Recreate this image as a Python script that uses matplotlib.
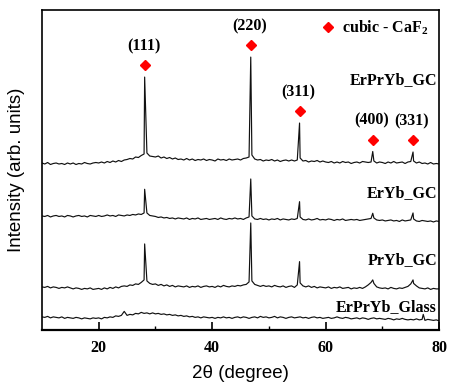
import numpy as np
import matplotlib
matplotlib.use("Agg")
import matplotlib.pyplot as plt

# ── data (intensities in arb. units, each pattern relative to its own baseline) ──
TWO_THETA = np.arange(10.0, 80.01, 0.5)          # 141 points

ERPRYB_GC = [
    0, -1, 0.5, -1.5, -0.5, 0, -1, -0.5, -1.5, 0,
    -1, 0, -1.5, -0.5, -1, 0.5, -0.5, -1, 0, 0.5,
    0, 1, 0, 1.5, 0.5, 2, 1, 2.5, 1.5, 3,
    3.5, 4.5, 4, 6, 5.5, 7.5, 9, 10, 7, 6.5,
    6, 7, 5, 6, 4.5, 5.5, 4, 5, 3.5, 4,
    3, 4.5, 3, 4, 2.5, 3.5, 3, 4, 2.5, 3.5,
    3, 2, 4, 3, 3.5, 2.5, 4, 3, 3.5, 4,
    3, 4.5, 5, 6, 8, 4, 3, 3.5, 2, 3,
    2.5, 3.5, 2, 3, 1.5, 2.5, 3, 2, 3, 2,
    3, 5, 2, 2.5, 1, 2, 1.5, 2.5, 1, 2,
    1, 0.5, 1.5, 0, 1, 0, 1.5, 0.5, 1, -0.5,
    0.5, 1, 0, 1.5, 1, 0.5, 1, 2, 0, 1,
    0.5, -0.5, 1, 0, 1.5, 0, 0.5, 1, -0.5, 1,
    1.5, 2, 0, 1, -0.5, 0, -1, 0.5, -1, -0.5,
    -1,
]
ERYB_GC = [
    0, -0.5, 0.5, -1, 0, 0.5, -0.5, 0, -1, 0.5,
    0, -1, 0, 0.5, -0.5, 0, -1, 0.5, 0, -0.5,
    0.5, -0.5, 0, 1, 0, 0.5, -0.5, 1, 0.5, 0,
    1, 0.5, 1.5, 1, 2, 1.5, 3, 3, 0.5, 0,
    -0.5, -1.5, -1, -2, -1.5, -2.5, -2, -3, -2, -2.5,
    -3, -2, -3.5, -2.5, -3, -2, -3.5, -3, -2.5, -3.5,
    -3, -2.5, -3.5, -2, -3, -3.5, -2.5, -3, -2, -3,
    -2.5, -3.5, -2, -1, 0, -3, -3.5, -2.5, -3.5, -3,
    -4, -3, -3.5, -2.5, -4, -3, -3.5, -4, -3, -3.5,
    -2.5, -1, -3.5, -4, -3, -4, -3.5, -2.5, -4, -3.5,
    -4, -3, -3.5, -4.5, -3.5, -4, -3, -4.5, -4, -3.5,
    -4, -3.5, -4.5, -4, -3.5, -3, -2.5, -2, -4, -4.5,
    -4, -5, -4.5, -4, -5, -4.5, -5.5, -4, -5, -4.5,
    -4, -3, -5, -5.5, -4.5, -5, -5.5, -5, -6, -5,
    -5.5,
]
PRYB_GC = [
    0, -0.5, 0.5, -1, 0, -0.5, -1.5, -0.5, -1, 0,
    -1, -2, -1, -1.5, -2.5, -1.5, -2, -1, -2.5, -2,
    -1.5, -2.5, -1, -2, -0.5, -1.5, 0, -1, 0.5, 1,
    0.5, 2, 1.5, 3, 2.5, 4.5, 7, 6, 3.5, 2.5,
    3, 1.5, 2.5, 1, 2, 0.5, 1.5, 0, 1, 0.5,
    0, 1, -0.5, 0.5, 0, 1, -0.5, 0.5, 1, 0,
    0.5, -0.5, 1, 0, 1.5, 0.5, 0, 1, 0.5, 1.5,
    1, 2, 2.5, 5, 6, 2.5, 1.5, 0.5, 1.5, 0.5,
    1, 0, 1.5, 0.5, 0, 1, -0.5, 0.5, 1, -0.5,
    2, 4, 1, 0, 1, -0.5, 0.5, -1, 0, -0.5,
    -1, 0, -1.5, -0.5, -1, 0, -1.5, -1, -0.5, -2,
    -1, -1.5, -0.5, -1.5, 0, 2, 4.5, 3.5, 0, -1,
    -1.5, -1, -2, -0.5, -1.5, -2, -1, -1.5, -0.5, 0.5,
    3, 3.5, 1, -1, -1.5, -2, -1, -2.5, -1.5, -2,
    -2,
]
ERPRYB_GLASS = [
    0, -0.5, 0.5, -1, 0, -0.5, -1, 0, -1.5, -0.5,
    -1, -1.5, -0.5, -1, -2, -1, -1.5, -2, -1, -1.5,
    -1, -2, -0.5, -1, 0, -0.5, 1, 0.5, 1.5, 5.5,
    1.5, 2.5, 2, 3.5, 3, 4.5, 3.5, 4, 3, 4,
    3, 3.5, 2.5, 3, 2, 2.5, 1.5, 2, 1, 1.5,
    0.5, 1, 0, 0.5, -0.5, 0, -1, 0, -0.5, -1,
    -0.5, -1.5, -0.5, -1, 0, -1, -0.5, -1.5, -0.5, 0,
    -1, 0, -0.5, -1.5, -0.5, 0, -1, 0.5, -0.5, 0,
    -1, -0.5, 0.5, -1, 0, -0.5, -1.5, -0.5, 0, -1,
    -0.5, 0, -1, -0.5, -1.5, -0.5, 0, -1, -0.5, -1.5,
    -1, -0.5, -1.5, -1, 0, -1, -1.5, -0.5, -1, -2,
    -1.5, -1, -2, -1, -1.5, -2.5, -1.5, -1, -2, -1.5,
    -2, -2.5, -1.5, -2, -3, -2, -2.5, -1.5, -2.5, -3,
    -2.5, -3, -2, -3, -2.5, -3.5, -2.5, -3, -3.5, -3,
    -4,
]

# CaF2 reflections: position and peak tops for each pattern
CAF2_THETA = [28.1, 46.8, 55.4, 68.3, 75.4]
CAF2_HKL   = ["(111)", "(220)", "(311)", "(400)", "(331)"]
PEAKS_ERPRYB_GC = [86, 106, 40, 11.5, 11]
PEAKS_ERYB_GC   = [26.7, 37, 14.3, 2.7, 3]
PEAKS_PRYB_GC   = [43, 64, 25.3, 7, 7]
GLASS_SPIKE_THETA = [77.2]
GLASS_SPIKE       = [2.5]

SAMPLES = ["ErPrYb_GC", "ErYb_GC", "PrYb_GC", "ErPrYb_Glass"]
OFFSETS = [167, 114, 43, 13]

# ── style ────────────────────────────────────────────────────────────────────
plt.rcParams.update({
    "font.family": "Liberation Serif",
    "mathtext.fontset": "custom",
    "mathtext.rm": "Liberation Serif",
    "mathtext.bf": "Liberation Serif:bold",
})
SERIF_BOLD = dict(family="Liberation Serif", fontweight="bold", fontsize=11.5)


def pattern(base, peak_x, peak_y):
    x = np.concatenate([TWO_THETA, peak_x])
    y = np.concatenate([np.asarray(base, float), peak_y])
    order = np.argsort(x)
    return x[order], y[order]


series = [
    pattern(ERPRYB_GC, CAF2_THETA, PEAKS_ERPRYB_GC),
    pattern(ERYB_GC, CAF2_THETA, PEAKS_ERYB_GC),
    pattern(PRYB_GC, CAF2_THETA, PEAKS_PRYB_GC),
    pattern(ERPRYB_GLASS, GLASS_SPIKE_THETA, GLASS_SPIKE),
]

fig = plt.figure(figsize=(4.56, 3.89), dpi=100)
ax = fig.add_axes([0.092, 0.152, 0.871, 0.822])

for (x, y), off in zip(series, OFFSETS):
    ax.plot(x, y + off, color="#111111", lw=0.85)

# sample labels
label_y = [250, 137, 70, 23]
for name, ly in zip(SAMPLES, label_y):
    ax.text(79.6, ly, name, ha="right", va="center", **SERIF_BOLD)

# CaF2 markers + hkl labels on top pattern
top = np.array(PEAKS_ERPRYB_GC) + OFFSETS[0]
mk_y = top + 12
ax.plot(CAF2_THETA, mk_y, ls="none", marker="D", ms=5, color="red",
        mec="red", label="cubic - CaF$_\\mathbf{2}$")
for th, my, hkl in zip(CAF2_THETA, mk_y, CAF2_HKL):
    ax.text(th - 0.2, my + 19, hkl, ha="center", va="center", **SERIF_BOLD)

leg = ax.legend(loc="upper right", bbox_to_anchor=(1.005, 1.015), frameon=False,
                handlelength=0.6, handletextpad=0.6, borderpad=0.3,
                prop={"family": "Liberation Serif", "weight": "bold", "size": 11.5})

ax.set_xlim(10, 80)
ax.set_ylim(0, 320)
ax.set_xticks([20, 40, 60, 80])
ax.set_xticks([30, 50, 70], minor=True)
ax.set_yticks([])
ax.tick_params(axis="x", which="major", direction="in", length=6, width=1.2, pad=7)
ax.tick_params(axis="x", which="minor", direction="in", length=3, width=1.0)
for lab in ax.get_xticklabels():
    lab.set_fontweight("bold")
    lab.set_fontsize(11.5)
for s in ax.spines.values():
    s.set_linewidth(1.2)
ax.spines["bottom"].set_linewidth(1.6)

ax.set_xlabel("2\u03b8 (degree)", family="Liberation Sans", fontsize=13.5, labelpad=7)
ax.set_ylabel("Intensity (arb. units)", family="Liberation Sans", fontsize=13.5, labelpad=12)

fig.savefig("out.png", dpi=100)
